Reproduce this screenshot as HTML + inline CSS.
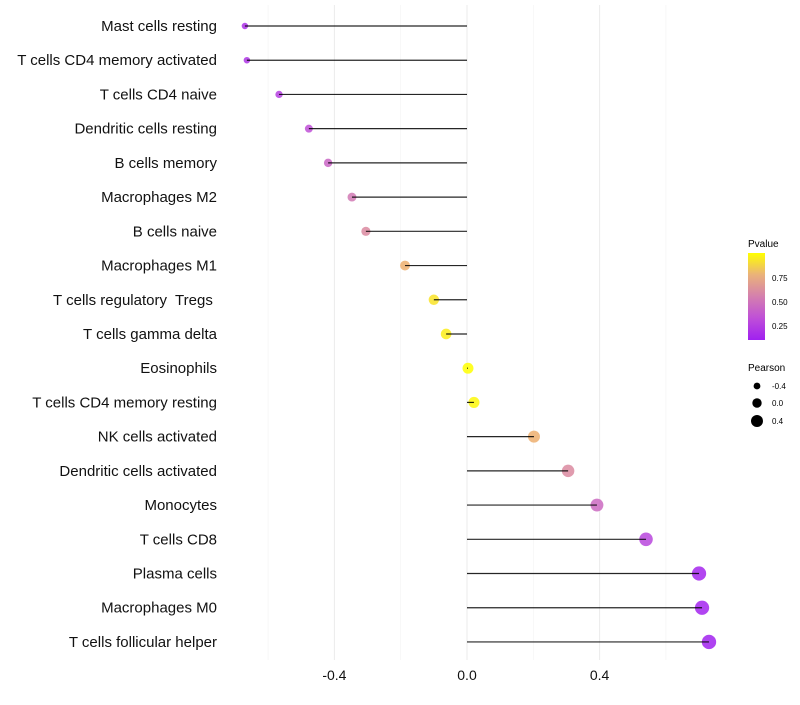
<!DOCTYPE html>
<html><head><meta charset="utf-8"><style>
body{margin:0;background:#fff;font-family:"Liberation Sans",sans-serif;}
svg text{font-family:"Liberation Sans",sans-serif;white-space:pre;}
</style></head><body>
<svg id="chart" width="800" height="700" xmlns="http://www.w3.org/2000/svg">
<defs>
<linearGradient id="pg" x1="0" y1="1" x2="0" y2="0">
<stop offset="0" stop-color="#a020f0"/>
<stop offset="0.25" stop-color="#bf4fd8"/>
<stop offset="0.5" stop-color="#d47fae"/>
<stop offset="0.75" stop-color="#eab27a"/>
<stop offset="1" stop-color="#ffff00"/>
</linearGradient>
</defs>
<g id="grid"></g><g id="points"></g><g id="marks"></g><g id="labels"></g>
<g>
<text x="748" y="247" font-size="10">Pvalue</text>
<rect x="748" y="253" width="17" height="87" fill="url(#pg)"/>
<text x="772" y="281" font-size="8">0.75</text>
<text x="772" y="305" font-size="8">0.50</text>
<text x="772" y="329" font-size="8">0.25</text>
</g>
<g>
<text x="748" y="371" font-size="10">Pearson</text>
<circle cx="757" cy="386" r="3.4" fill="#000"/><text x="772" y="389" font-size="8">-0.4</text>
<circle cx="757" cy="403" r="4.7" fill="#000"/><text x="772" y="406" font-size="8">0.0</text>
<circle cx="757" cy="421" r="6" fill="#000"/><text x="772" y="424" font-size="8">0.4</text>
</g>
</svg>
<script>
const categories=["Mast cells resting","T cells CD4 memory activated","T cells CD4 naive","Dendritic cells resting","B cells memory","Macrophages M2","B cells naive","Macrophages M1","T cells regulatory  Tregs ","T cells gamma delta","Eosinophils","T cells CD4 memory resting","NK cells activated","Dendritic cells activated","Monocytes","T cells CD8","Plasma cells","Macrophages M0","T cells follicular helper"];
const pearson=[-0.67,-0.664,-0.567,-0.477,-0.419,-0.347,-0.305,-0.187,-0.10,-0.063,0.003,0.021,0.202,0.305,0.392,0.54,0.70,0.709,0.73];
const pvalue=[0.18,0.2,0.25,0.33,0.43,0.52,0.6,0.77,0.92,0.95,1.0,0.98,0.77,0.6,0.45,0.28,0.13,0.12,0.11];
const xTicks=[-0.4,0.0,0.4];
const xTickLabels=["-0.4","0.0","0.4"];
const xMinor=[-0.6,-0.2,0.2,0.6];
const X=v=>467+v*331.5;
const Y=i=>26+i*34.22;
const R=p=>Math.sqrt(Math.max(5,30+29.4*p));
function col(p){
 const t=Math.max(0,Math.min(1,(p-0.1)/0.9));
 const s=[[0,[160,32,240]],[0.25,[191,79,216]],[0.5,[212,127,174]],[0.75,[238,176,110]],[1,[255,255,0]]];
 for(let k=0;k<s.length-1;k++){if(t<=s[k+1][0]){const f=(t-s[k][0])/(s[k+1][0]-s[k][0]);const c=s[k][1].map((a,j)=>Math.round(a+(s[k+1][1][j]-a)*f));return `rgb(${c})`;}}
 return "rgb(255,255,0)";
}
const NS="http://www.w3.org/2000/svg";
function mk(tag,a,parent){const e=document.createElementNS(NS,tag);for(const k in a)e.setAttribute(k,a[k]);document.getElementById(parent).appendChild(e);return e;}
xMinor.forEach(v=>{const l=mk("line",{x1:X(v),x2:X(v),y1:5,y2:660,stroke:"#f3f3f3","stroke-width":0.6},"grid");

});
xTicks.forEach((v,i)=>{const l=mk("line",{x1:X(v),x2:X(v),y1:5,y2:660,stroke:"#ebebeb","stroke-width":1},"grid");


const t=mk("text",{x:X(v),y:680,"text-anchor":"middle","font-size":14,fill:"#111"},"labels");t.textContent=xTickLabels[i];

});
categories.forEach((c,i)=>{
 const t=mk("text",{x:217,y:Y(i)+5,"text-anchor":"end","font-size":15,fill:"#111"},"labels");t.textContent=c;
 
 
 const p=mk("circle",{cx:X(pearson[i]),cy:Y(i),r:R(pearson[i]),fill:col(pvalue[i]),"fill-opacity":0.85},"points");
 
 
 const l=mk("line",{x1:X(0),x2:X(pearson[i]),y1:Y(i),y2:Y(i),stroke:"#000","stroke-width":1.2,"stroke-opacity":0.85},"marks");
 
 
});
</script>
</body></html>
